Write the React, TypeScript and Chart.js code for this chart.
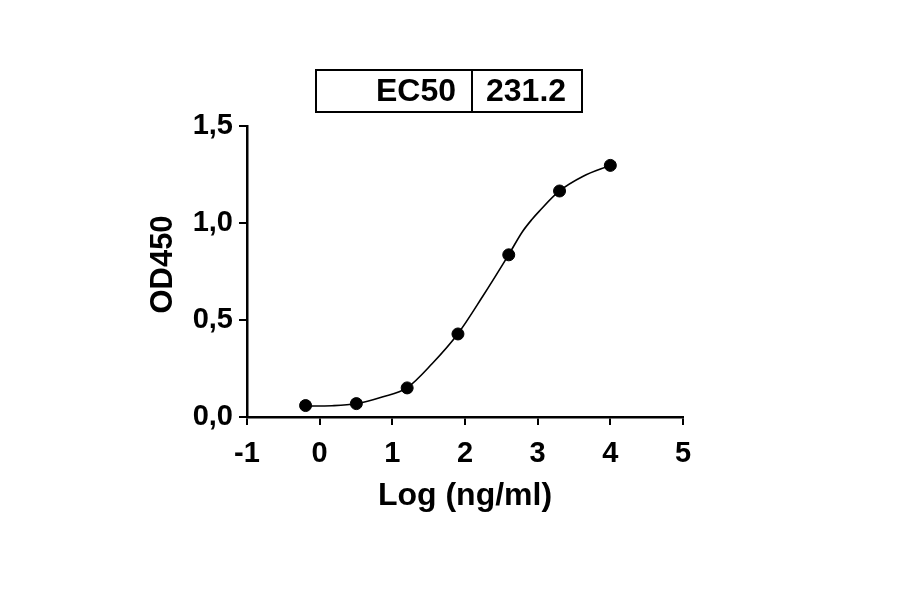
import React, { useRef, useEffect } from "react";
import Chart from "chart.js/auto";

// measured points: log10 concentration vs OD450
const logConc = [-0.194, 0.505, 1.204, 1.903, 2.602, 3.301, 4.0];
const od450 = [0.059, 0.069, 0.15, 0.428, 0.836, 1.165, 1.297];

// fitted curve
const fitX = [-0.19, 0.17, 0.5, 0.86, 1.2, 1.55, 1.9, 2.24, 2.6, 2.79, 2.92, 3.02, 3.3, 3.62, 4.0];
const fitY = [0.056, 0.058, 0.068, 0.103, 0.15, 0.276, 0.428, 0.62, 0.836, 0.955, 1.018, 1.06, 1.165, 1.24, 1.297];

const xTickLabels = ["-1", "0", "1", "2", "3", "4", "5"];
const yTickLabels = ["0,0", "0,5", "1,0", "1,5"];

const xTitle = "Log (ng/ml)";
const yTitle = "OD450";
const ec50Label = "EC50";
const ec50Value = "231.2";

const FONT = "'Liberation Sans', Arial, Helvetica, sans-serif";

const ec50Box = {
  id: "ec50Box",
  afterDraw(chart: Chart) {
    const ctx = chart.ctx;
    const left = 316;
    const top = 70;
    const w = 266;
    const h = 42;
    const split = 472;
    ctx.save();
    ctx.strokeStyle = "#000";
    ctx.lineWidth = 2;
    ctx.strokeRect(left, top, w, h);
    ctx.beginPath();
    ctx.moveTo(split, top);
    ctx.lineTo(split, top + h);
    ctx.stroke();
    ctx.fillStyle = "#000";
    ctx.font = `bold 32px ${FONT}`;
    ctx.textBaseline = "middle";
    ctx.textAlign = "right";
    ctx.fillText(ec50Label, split - 16, top + h / 2 + 1);
    ctx.textAlign = "left";
    ctx.fillText(ec50Value, split + 14, top + h / 2 + 1);

    // y axis title, a little above the axis centre as in the original
    const { chartArea } = chart;
    ctx.translate(163, (chartArea.top + chartArea.bottom) / 2 - 7);
    ctx.rotate(-Math.PI / 2);
    ctx.textAlign = "center";
    ctx.font = `bold 31px ${FONT}`;
    ctx.fillText(yTitle, 0, 0);
    ctx.restore();
  },
};

const DoseResponse: React.FC = () => {
  const chartRef = useRef<HTMLCanvasElement | null>(null);
  const chartInstanceRef = useRef<Chart | null>(null);

  useEffect(() => {
    document.body.style.margin = "0";
    if (!chartRef.current) return;
    const ctx = chartRef.current.getContext("2d");
    if (!ctx) return;

    if (chartInstanceRef.current) {
      chartInstanceRef.current.destroy();
    }

    chartInstanceRef.current = new Chart(ctx, {
      type: "scatter",
      data: {
        datasets: [
          {
            label: "fit",
            data: fitX.map((x, i) => ({ x, y: fitY[i] })),
            showLine: true,
            borderColor: "#000",
            borderWidth: 1.6,
            pointRadius: 0,
            cubicInterpolationMode: "monotone",
          },
          {
            label: "OD450",
            data: logConc.map((x, i) => ({ x, y: od450[i] })),
            showLine: false,
            backgroundColor: "#000",
            borderColor: "#000",
            pointRadius: 6,
          },
        ],
      },
      options: {
        animation: false,
        responsive: true,
        maintainAspectRatio: false,
        layout: { padding: { top: 126, right: 217, left: 0, bottom: 0 } },
        plugins: {
          legend: { display: false },
          tooltip: { enabled: false },
        },
        scales: {
          x: {
            type: "linear",
            min: -1,
            max: 5,
            afterFit: (scale: any) => {
              scale.height = 177;
            },
            ticks: {
              stepSize: 1,
              autoSkip: false,
              maxRotation: 0,
              padding: 12,
              color: "#000",
              font: { family: FONT, size: 29, weight: "bold" },
              callback: (_v: any, i: number) => xTickLabels[i],
            },
            grid: {
              drawOnChartArea: false,
              drawTicks: true,
              tickLength: 8,
              color: "#000",
              lineWidth: 2,
            },
            border: { display: true, color: "#000", width: 2.5 },
            title: {
              display: true,
              text: xTitle,
              color: "#000",
              font: { family: FONT, size: 32, weight: "bold" },
              padding: { top: 0, bottom: 79 },
            },
          },
          y: {
            type: "linear",
            min: 0,
            max: 1.5,
            afterFit: (scale: any) => {
              scale.width = 247;
            },
            ticks: {
              stepSize: 0.5,
              autoSkip: false,
              padding: 6,
              color: "#000",
              font: { family: FONT, size: 29, weight: "bold" },
              callback: (_v: any, i: number) => yTickLabels[i],
            },
            grid: {
              drawOnChartArea: false,
              drawTicks: true,
              tickLength: 8,
              color: "#000",
              lineWidth: 2,
            },
            border: { display: true, color: "#000", width: 2.5 },
          },
        },
      },
      plugins: [ec50Box],
    });

    return () => {
      if (chartInstanceRef.current) {
        chartInstanceRef.current.destroy();
        chartInstanceRef.current = null;
      }
    };
  }, []);

  return (
    <div style={{ position: "relative", width: 900, height: 594, background: "#fff" }}>
      <canvas ref={chartRef} />
    </div>
  );
};

export default function App() {
  return <DoseResponse />;
}
